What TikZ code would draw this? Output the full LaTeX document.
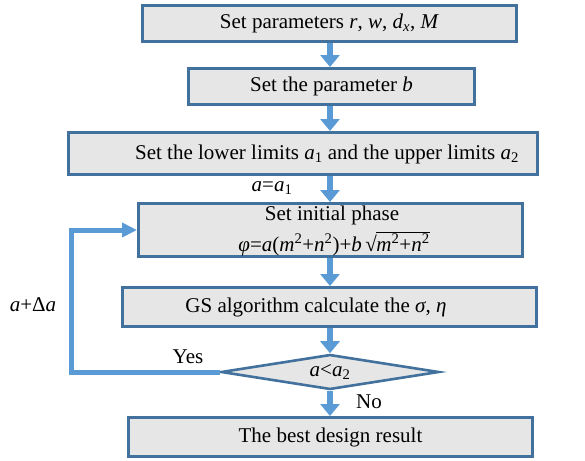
\documentclass[tikz,border=0pt]{standalone}
\usepackage{fontspec}
\setmainfont{Liberation Serif}
\usetikzlibrary{arrows.meta,shapes.geometric}
\definecolor{edgeblue}{HTML}{41719C}
\definecolor{flowblue}{HTML}{5B9BD5}
\definecolor{boxgray}{HTML}{E6E6E6}
\newcommand{\iv}[1]{\textit{#1}}
% square root from the text font's radical sign with a rule over the radicand
\newcommand{\radic}[1]{\textup{√}\kern-0.5pt\vbox{\hrule height 0.8pt\kern0.6pt\hbox{#1}}}
\begin{document}
\begin{tikzpicture}[x=1pt,y=-1pt,
  font=\fontsize{21}{24}\selectfont,
  procbox/.style={draw=edgeblue, fill=boxgray, line width=3pt, inner sep=0pt},
  decision/.style={diamond, draw=edgeblue, fill=boxgray, line width=2.6pt, inner sep=0pt,
    aspect=6, minimum width=218pt, minimum height=35pt},
  txt/.style={inner sep=0pt},
  flow/.style={draw=flowblue, line width=6pt, -{Triangle[width=19pt,length=12pt]}},
  loopflow/.style={draw=flowblue, line width=5pt, -{Triangle[width=14pt,length=15pt]}}]
\useasboundingbox (0,0) rectangle (585,460);

% process boxes
\node[procbox, minimum width=374pt, minimum height=36pt] (b1) at (329.5,23.5)
  {Set parameters \iv{r}, \iv{w}, \iv{d}\textsubscript{\iv{x}}, \iv{M}};
\node[procbox, minimum width=286pt, minimum height=36pt] (b2) at (331.5,86.5)
  {Set the parameter \iv{b}};
\node[procbox, minimum width=469pt, minimum height=42pt] (b3) at (303,153.5) {};
\node[txt] (t3) at (327,154)
  {Set the lower limits \iv{a}\textsubscript{1} and the upper limits \iv{a}\textsubscript{2}};
\node[procbox, minimum width=384pt, minimum height=53pt] (b4) at (330.5,230) {};
\node[txt] (t4a) at (332,215) {Set initial phase};
\node[txt] (t4b) at (334,244)
  {\iv{φ}=\iv{a}(\iv{m}\textsuperscript{2}+\iv{n}\textsuperscript{2})+\iv{b}\,\radic{\iv{m}\textsuperscript{2}+\iv{n}\textsuperscript{2}}};
\node[procbox, minimum width=414pt, minimum height=39pt] (b5) at (329.5,307) {};
\node[txt] (t5) at (316,307) {GS algorithm calculate the \iv{σ}, \iv{η}};
\node[decision] (dia) at (330,372) {\iv{a}<\iv{a}\textsubscript{2}};
\node[procbox, minimum width=404pt, minimum height=39pt] (b6) at (330.5,437)
  {The best design result};

% main flow
\draw[flow] (b1.south -| dia.center) -- (b2.north -| dia.center);
\draw[flow] (b2.south -| dia.center) -- (b3.north -| dia.center);
\draw[flow] (b3.south -| dia.center) -- (b4.north -| dia.center);
\draw[flow] (b4.south -| dia.center) -- (b5.north -| dia.center);
\draw[flow] (b5.south -| dia.center) -- (dia.north);
\draw[flow] (dia.south) -- (b6.north -| dia.center);

% feedback loop
\coordinate (lc) at (71,300);
\draw[loopflow] (dia.west) -| (lc |- b4.west) -- (b4.west);

% labels
\node[txt] (la1) at (272,188) {\iv{a}=\iv{a}\textsubscript{1}};
\node[txt] (lyes) at (188,357) {Yes};
\node[txt] (lno) at (369,402) {No};
\node[txt] (lda) at (33,305) {\iv{a}+Δ\iv{a}};
\end{tikzpicture}
\end{document}
